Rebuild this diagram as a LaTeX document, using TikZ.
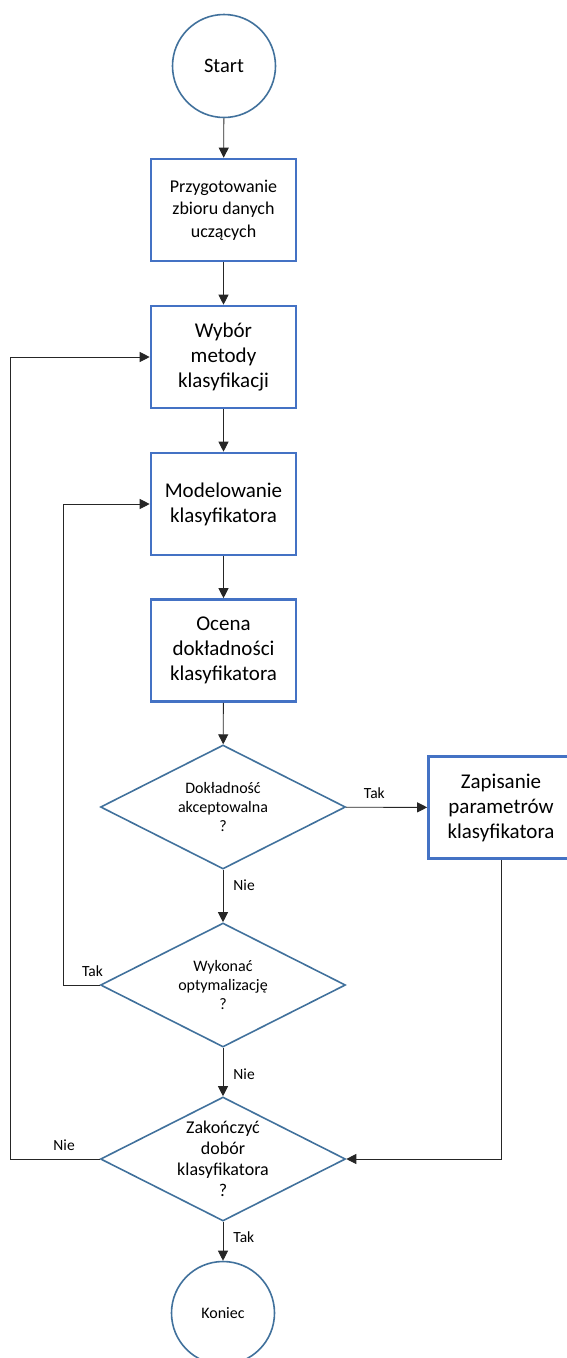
\documentclass[tikz,border=0pt]{standalone}
\usepackage{fontspec}
\setmainfont{Carlito}
\usetikzlibrary{shapes.geometric,arrows.meta}

\definecolor{boxblue}{HTML}{4472C4}
\definecolor{steel}{HTML}{41719C}

\begin{document}
\begin{tikzpicture}[x=1pt, y=-1pt]

\tikzstyle{box} = [rectangle, draw=boxblue, line width=2.6pt, fill=white, minimum width=145pt, minimum height=102pt, align=center, inner sep=0pt, font=\fontsize{21}{25}\selectfont]
\tikzstyle{term} = [circle, draw=steel, line width=1.6pt, minimum size=103pt, inner sep=0pt]
\tikzstyle{dec} = [diamond, draw=steel, line width=1.6pt, minimum width=245pt, minimum height=124pt, inner sep=-20pt, align=center, font=\fontsize{16}{19}\selectfont]
\tikzstyle{line} = [draw=black!85, line width=0.9pt, -{Triangle[length=10pt,width=10pt]}]
\tikzstyle{lbl} = [font=\fontsize{15.5}{18}\selectfont, inner sep=1pt]

\useasboundingbox (0,0) rectangle (566,1358);

\node[term, font=\fontsize{20.5}{24}\selectfont] (start) at (224,66) {Start};
\node[box, font=\fontsize{18}{22.5}\selectfont] (prz) at (223.5,210) {Przygotowanie\\zbioru danych\\uczących};
\node[box] (wyb) at (223.5,357) {Wybór\\metody\\klasyfikacji};
\node[box] (mod) at (223.5,504) {Modelowanie\\klasyfikatora};
\node[box] (oce) at (223.5,650.5) {Ocena\\dokładności\\klasyfikatora};

\node[dec] (dok) at (223,807) {Dokładność\\akceptowalna\\?};
\node[box] (zap) at (501,807.5) {Zapisanie\\parametrów\\klasyfikatora};
\node[dec] (wyk) at (223,985) {Wykonać\\optymalizację\\?};
\node[dec, font=\fontsize{18}{21}\selectfont] (zak) at (223,1159) {Zakończyć\\dobór\\klasyfikatora\\?};
\node[term, font=\fontsize{16}{19}\selectfont] (kon) at (223,1313) {Koniec};

\draw[line] (start) -- (prz);
\draw[line] (prz) -- (wyb);
\draw[line] (wyb) -- (mod);
\draw[line] (mod) -- (oce);
\draw[line] (oce) -- (dok);
\draw[line] (dok) -- node[lbl, above=7pt, pos=0.35] (t1) {Tak} (zap);
\draw[line] (dok) -- node[lbl, right, xshift=9pt, pos=0.3] (n1) {Nie} (wyk);
\draw[line] (wyk) -- node[lbl, right, xshift=9pt, pos=0.55] (n2) {Nie} (zak);
\draw[line] (zak) -- node[lbl, right, xshift=9pt, pos=0.4] (t3) {Tak} (kon);

\draw[line] (wyk.west) -- node[lbl, above=7pt, pos=0.2] (t2) {Tak} ++(-36,0) |- (mod.west);
\draw[line] (zak.west) -- node[lbl, above=7pt, pos=0.4] (n3) {Nie} ++(-89,0) |- (wyb.west);
\draw[line] (zap.south) |- (zak.east);

\end{tikzpicture}
\end{document}
